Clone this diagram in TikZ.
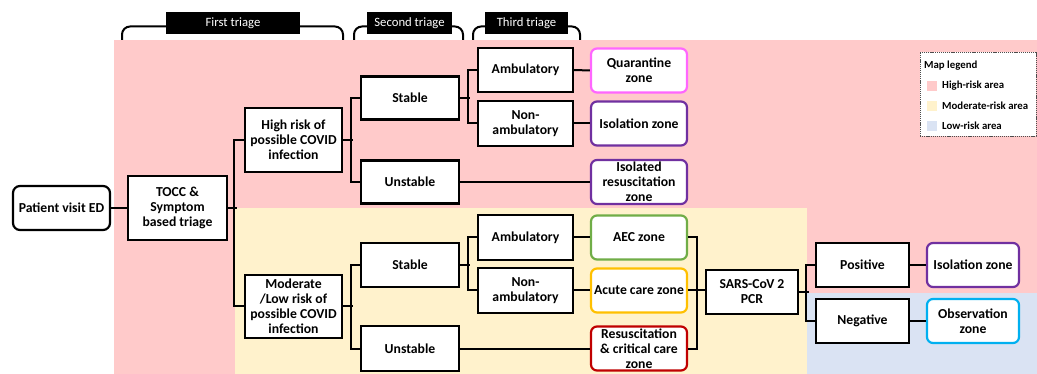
\documentclass[tikz,border=0pt]{standalone}
\usepackage{fontspec}
\setmainfont{Carlito}
\definecolor{pinkbg}{HTML}{FFCACA}
\definecolor{yellowbg}{HTML}{FFF2CC}
\definecolor{bluebg}{HTML}{DAE3F3}
\definecolor{cmag}{HTML}{FF66FF}
\definecolor{cpurp}{HTML}{7030A0}
\definecolor{cgreen}{HTML}{70AD47}
\definecolor{corange}{HTML}{FFC000}
\definecolor{cred}{HTML}{C00000}
\definecolor{ccyan}{HTML}{00B0F0}
\begin{document}
\begin{tikzpicture}[x=1pt,y=-1pt,
  every node/.style={font=\bfseries\fontsize{13.7}{15}\selectfont, align=center},
  bx/.style={draw, line width=2.2pt, fill=white, inner sep=0pt},
  zone/.style={bx, rounded corners=6pt, minimum width=96pt, minimum height=44pt},
  conn/.style={line width=2pt},
  brk/.style={line width=2pt, rounded corners=8pt},
  lab/.style={fill=black, text=white, font=\fontsize{12.7}{14}\selectfont, inner sep=0pt, minimum height=22pt},
  sq/.style={draw=white, line width=0.4pt, minimum width=11pt, minimum height=11pt, inner sep=0pt},
  lgt/.style={anchor=west, font=\bfseries\fontsize{10.8}{12}\selectfont, inner sep=0pt}
]
\useasboundingbox (0,0) rectangle (1037,374);
% risk areas
\fill[pinkbg] (114,40) rectangle (1037,374);
\fill[yellowbg] (235,208) rectangle (807,374);
\fill[bluebg] (807,293) rectangle (1037,374);

% triage brackets
\draw[brk] (122,40) -- (122,26.5) -- (343,26.5) -- (343,40);
\draw[brk] (354,40) -- (354,26.5) -- (463,26.5) -- (463,40);
\draw[brk] (473,40) -- (473,26.5) -- (580,26.5) -- (580,40);
\node[lab, minimum width=134pt] (t1) at (233,23) {First triage};
\node[lab, minimum width=85pt] (t2) at (409.5,23) {Second triage};
\node[lab, minimum width=83pt] (t3) at (526.5,23) {Third triage};

% nodes
\node[bx, rounded corners=7pt, minimum width=97pt, minimum height=44pt] (pat) at (61.5,208) {Patient visit ED};
\node[bx, minimum width=99pt, minimum height=64pt] (tocc) at (177.5,208) {TOCC \&\\Symptom\\based triage};
\node[bx, minimum width=97pt, minimum height=64pt] (hr) at (293.5,140) {High risk of\\possible COVID\\infection};
\node[bx, minimum width=97pt, minimum height=63pt] (ml) at (293.5,306.5) {Moderate\\/Low risk of\\possible COVID\\infection};
\node[bx, minimum width=98pt, minimum height=43pt] (st1) at (410,98) {Stable};
\node[bx, minimum width=98pt, minimum height=43pt] (un1) at (410,182) {Unstable};
\node[bx, minimum width=98pt, minimum height=44pt] (st2) at (410,265) {Stable};
\node[bx, minimum width=98pt, minimum height=45pt] (un2) at (410,348.5) {Unstable};
\node[bx, minimum width=95pt, minimum height=44pt] (am1) at (525.5,70) {Ambulatory};
\node[bx, minimum width=95pt, minimum height=45pt] (na1) at (525.5,123.5) {Non-\\ambulatory};
\node[bx, minimum width=95pt, minimum height=45pt] (am2) at (525.5,237.5) {Ambulatory};
\node[bx, minimum width=95pt, minimum height=45pt] (na2) at (525.5,290.5) {Non-\\ambulatory};
\node[zone, draw=cmag] (qz) at (639,70.5) {Quarantine\\zone};
\node[zone, draw=cpurp] (iz1) at (639,123.5) {Isolation zone};
\node[zone, draw=cpurp] (irz) at (639,182) {Isolated\\resuscitation\\zone};
\node[zone, draw=cgreen] (aec) at (639,237.5) {AEC zone};
\node[zone, draw=corange] (acz) at (639,290.5) {Acute care zone};
\node[zone, draw=cred] (rcz) at (639,348.5) {Resuscitation\\\& critical care\\zone};
\node[bx, minimum width=92pt, minimum height=44pt] (pcr) at (752,292) {SARS-CoV 2\\PCR};
\node[bx, minimum width=93pt, minimum height=44pt] (pos) at (862.5,265) {Positive};
\node[bx, minimum width=93pt, minimum height=44pt] (neg) at (862.5,321) {Negative};
\node[zone, draw=cpurp, minimum width=92pt] (iz2) at (973,265) {Isolation zone};
\node[zone, draw=ccyan, minimum width=92pt] (obs) at (973,321) {Observation\\zone};

% connectors
\draw[conn] (pat.east) -- (tocc.west);
\draw[conn] (tocc.east) -- ++(8.5,0);
\draw[conn] (hr.west) -- ++(-9.5,0) |- (ml.west);
\draw[conn] (st1.west) -- ++(-9,0) |- (un1.west);
\draw[conn] (hr.east) -- ++(9.5,0);
\draw[conn] (st2.west) -- ++(-9,0) |- (un2.west);
\draw[conn] (ml.east) -- ++(9.5,0);
\draw[conn] (am1.west) -- ++(-9,0) |- (na1.west);
\draw[conn] (st1.east) -- ++(9.5,0);
\draw[conn] (am2.west) -- ++(-9,0) |- (na2.west);
\draw[conn] (st2.east) -- ++(9.5,0);
\draw[conn] (am1.east) -- (qz.west);
\draw[conn] (na1.east) -- (iz1.west);
\draw[conn] (un1.east) -- (irz.west);
\draw[conn] (am2.east) -- (aec.west);
\draw[conn] (na2.east) -- (acz.west);
\draw[conn] (un2.east) -- (rcz.west);
\draw[conn] (aec.east) -- ++(9,0) |- (rcz.east);
\draw[conn] (acz.east) -- (acz.east -| pcr.west);
\draw[conn] (pos.west) -- ++(-9,0) |- (neg.west);
\draw[conn] (pcr.east) -- ++(9.5,0);
\draw[conn] (pos.east) -- (iz2.west);
\draw[conn] (neg.east) -- (obs.west);

% legend
\node[draw=black!70, dashed, dash pattern=on 1.2pt off 0.9pt, line width=0.6pt, fill=white, minimum width=116pt, minimum height=84pt, inner sep=0pt] (lg) at (978,94) {};
\node[lgt] (lgtitle) at (924,66) {Map legend};
\node[sq, fill=pinkbg] (s1) at (931.5,86) {};
\node[sq, fill=yellowbg] (s2) at (931.5,106) {};
\node[sq, fill=bluebg] (s3) at (931.5,126) {};
\node[lgt] (l1) at (942,86) {High-risk area};
\node[lgt] (l2) at (942,106) {Moderate-risk area};
\node[lgt] (l3) at (942,126) {Low-risk area};
\end{tikzpicture}
\end{document}
